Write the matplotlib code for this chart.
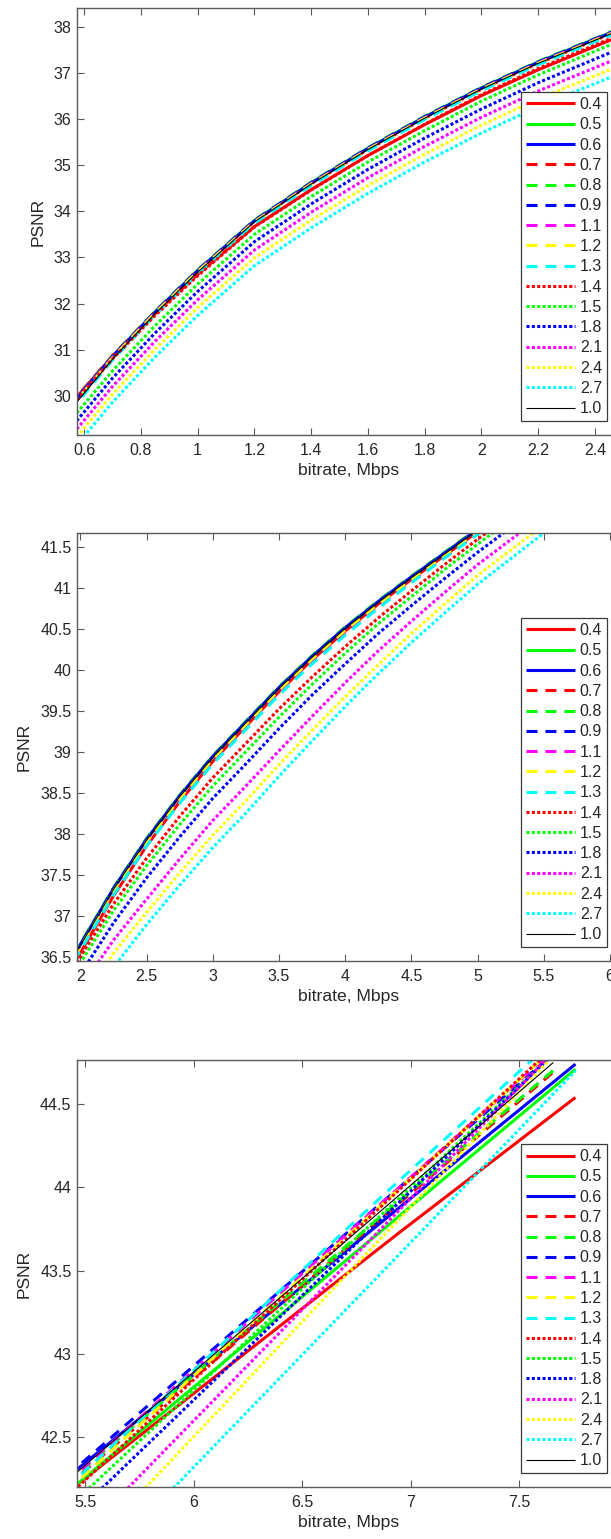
import matplotlib
matplotlib.use('Agg')
import matplotlib.pyplot as plt
from matplotlib.ticker import FuncFormatter, MultipleLocator

plt.rcParams['font.family'] = ['Liberation Sans', 'DejaVu Sans']

# curve names (legend order) and their MATLAB-like styles
labels = ['0.4', '0.5', '0.6', '0.7', '0.8', '0.9', '1.1', '1.2', '1.3',
          '1.4', '1.5', '1.8', '2.1', '2.4', '2.7', '1.0']
colors = ['#ff0000', '#00ff00', '#0000ff', '#ff0000', '#00ff00', '#0000ff',
          '#ff00ff', '#ffff00', '#00ffff', '#ff0000', '#00ff00', '#0000ff',
          '#ff00ff', '#ffff00', '#00ffff', '#000000']
styles = ['-'] * 3 + ['--'] * 6 + [':'] * 6 + ['-']

# --- low bitrate range ---
rate1 = [0.55, 0.7, 0.85, 1.0, 1.2, 1.4, 1.6, 1.8, 2.0, 2.2, 2.5]
psnr1 = [
    [29.80, 30.86, 31.78, 32.63, 33.67, 34.47, 35.21, 35.88, 36.51, 37.07, 37.83],
    [29.76, 30.85, 31.82, 32.72, 33.80, 34.62, 35.37, 36.05, 36.68, 37.24, 37.99],
    [29.76, 30.85, 31.81, 32.71, 33.79, 34.61, 35.36, 36.04, 36.67, 37.23, 37.98],
    [29.80, 30.87, 31.82, 32.71, 33.78, 34.60, 35.34, 36.02, 36.65, 37.21, 37.96],
    [29.77, 30.86, 31.83, 32.73, 33.81, 34.63, 35.38, 36.06, 36.69, 37.25, 38.00],
    [29.77, 30.85, 31.82, 32.72, 33.80, 34.62, 35.37, 36.05, 36.68, 37.24, 37.99],
    [29.74, 30.83, 31.80, 32.70, 33.78, 34.60, 35.35, 36.03, 36.66, 37.22, 37.97],
    [29.72, 30.82, 31.79, 32.69, 33.77, 34.59, 35.34, 36.02, 36.65, 37.21, 37.96],
    [29.66, 30.77, 31.75, 32.65, 33.74, 34.56, 35.31, 35.99, 36.62, 37.18, 37.93],
    [29.74, 30.80, 31.74, 32.60, 33.66, 34.46, 35.21, 35.89, 36.53, 37.10, 37.86],
    [29.45, 30.54, 31.52, 32.42, 33.50, 34.32, 35.07, 35.75, 36.39, 36.96, 37.73],
    [29.28, 30.38, 31.36, 32.26, 33.34, 34.16, 34.91, 35.59, 36.22, 36.79, 37.56],
    [29.10, 30.20, 31.18, 32.08, 33.16, 33.98, 34.73, 35.41, 36.04, 36.61, 37.37],
    [28.93, 30.03, 31.01, 31.91, 32.99, 33.81, 34.56, 35.24, 35.87, 36.44, 37.19],
    [28.75, 29.86, 30.84, 31.74, 32.82, 33.64, 34.39, 35.07, 35.70, 36.27, 37.02],
    [29.68, 30.79, 31.78, 32.68, 33.77, 34.59, 35.34, 36.02, 36.65, 37.21, 37.96],
]

# --- middle bitrate range ---
rate2 = [1.95, 2.25, 2.5, 2.75, 3.0, 3.25, 3.5, 3.75, 4.0, 4.25, 4.5, 4.75, 5.0, 5.6]
psnr2 = [
    [36.42, 37.25, 37.86, 38.40, 38.89, 39.32, 39.74, 40.13, 40.48, 40.81, 41.11, 41.40, 41.69, 42.36],
    [36.52, 37.34, 37.94, 38.47, 38.95, 39.37, 39.79, 40.17, 40.52, 40.84, 41.14, 41.43, 41.72, 42.39],
    [36.52, 37.34, 37.94, 38.47, 38.95, 39.37, 39.79, 40.17, 40.52, 40.84, 41.14, 41.43, 41.72, 42.39],
    [36.47, 37.29, 37.89, 38.42, 38.90, 39.32, 39.74, 40.12, 40.47, 40.79, 41.09, 41.38, 41.67, 42.34],
    [36.53, 37.35, 37.95, 38.48, 38.96, 39.38, 39.80, 40.18, 40.53, 40.85, 41.15, 41.44, 41.73, 42.40],
    [36.52, 37.34, 37.94, 38.47, 38.95, 39.37, 39.79, 40.17, 40.52, 40.84, 41.14, 41.43, 41.72, 42.39],
    [36.48, 37.30, 37.90, 38.43, 38.91, 39.33, 39.75, 40.13, 40.48, 40.80, 41.10, 41.39, 41.68, 42.35],
    [36.49, 37.31, 37.91, 38.44, 38.92, 39.34, 39.76, 40.14, 40.49, 40.81, 41.11, 41.40, 41.69, 42.36],
    [36.45, 37.26, 37.86, 38.38, 38.86, 39.28, 39.70, 40.08, 40.43, 40.76, 41.07, 41.37, 41.66, 42.33],
    [36.38, 37.15, 37.71, 38.22, 38.69, 39.11, 39.53, 39.92, 40.29, 40.64, 40.97, 41.29, 41.60, 42.30],
    [36.31, 37.07, 37.62, 38.12, 38.59, 39.01, 39.43, 39.83, 40.21, 40.57, 40.90, 41.23, 41.54, 42.25],
    [36.17, 36.92, 37.47, 37.97, 38.44, 38.86, 39.29, 39.70, 40.08, 40.45, 40.79, 41.12, 41.44, 42.16],
    [36.01, 36.71, 37.21, 37.70, 38.17, 38.59, 39.02, 39.44, 39.85, 40.24, 40.60, 40.95, 41.29, 42.02],
    [35.83, 36.55, 37.05, 37.53, 37.99, 38.41, 38.85, 39.27, 39.68, 40.07, 40.45, 40.81, 41.16, 41.90],
    [35.65, 36.38, 36.90, 37.38, 37.84, 38.26, 38.71, 39.14, 39.56, 39.96, 40.34, 40.70, 41.05, 41.80],
    [36.51, 37.33, 37.93, 38.46, 38.94, 39.36, 39.78, 40.16, 40.51, 40.83, 41.13, 41.42, 41.71, 42.38],
]

# --- high bitrate range (each fit covers its own rate span) ---
rate3 = [
    [5.42, 6.95, 7.76], [5.42, 6.95, 7.76], [5.42, 6.95, 7.76],
    [5.42, 7.665], [5.42, 7.665], [5.42, 7.665],
    [5.42, 7.665], [5.42, 7.665], [5.42, 6.88, 7.665],
    [5.45, 7.665], [5.50, 7.665], [5.56, 7.665],
    [5.68, 7.665], [5.76, 7.665], [5.89, 6.95, 7.76],
    [5.42, 7.658],
]
psnr3 = [
    [42.17, 43.73, 44.54], [42.17, 43.83, 44.71], [42.26, 43.88, 44.74],
    [42.21, 44.70], [42.23, 44.71], [42.27, 44.81],
    [42.23, 44.83], [42.18, 44.84], [42.20, 43.96, 44.89],
    [42.18, 44.85], [42.17, 44.81], [42.17, 44.81],
    [42.17, 44.82], [42.17, 44.80], [42.17, 43.60, 44.70],
    [42.24, 44.75],
]

panels = [
    (rate1, psnr1, (0.5753, 2.4916), (29.15, 38.41), 0.2, 1.0),
    (rate2, psnr2, (1.974, 6.083), (36.455, 41.676), 0.5, 0.5),
    (None, psnr3, (5.463, 7.97), (42.20, 44.765), 0.5, 0.5),
]

W, H = 611, 1539
fig = plt.figure(figsize=(W / 100, H / 100), dpi=100)
# axes boxes in pixels: left, top, bottom (right side runs past the canvas)
boxes = [(77, 8, 435), (77, 533, 961), (77, 1060, 1487)]
right_px = 621

edge = '#5a5a5a'
txt = '#262626'
fmt = FuncFormatter(lambda v, p: '%g' % round(v, 2))

for i, (rate, psnr, xl, yl, xstep, ystep) in enumerate(panels):
    left, top, bottom = boxes[i]
    ax = fig.add_axes([left / W, 1 - bottom / H, (right_px - left) / W, (bottom - top) / H])
    for k, lab in enumerate(labels):
        xs = rate if rate is not None else rate3[k]
        ys = psnr[k]
        ls = styles[k]
        lw = 0.8 if lab == '1.0' else 2.2
        line, = ax.plot(xs, ys, color=colors[k], lw=lw, label=lab,
                        solid_capstyle='butt')
        if ls == '--':
            line.set_dashes([3.6, 2.6])
        elif ls == ':':
            line.set_dashes([1.0, 0.75])
    ax.set_xlim(*xl)
    ax.set_ylim(*yl)
    ax.xaxis.set_major_locator(MultipleLocator(xstep))
    ax.yaxis.set_major_locator(MultipleLocator(ystep))
    ax.xaxis.set_major_formatter(fmt)
    ax.yaxis.set_major_formatter(fmt)
    ax.tick_params(direction='in', length=5, width=0.8, colors=edge,
                   labelcolor=txt, labelsize=11.5, top=True, right=True)
    ax.tick_params(axis='x', pad=6)
    ax.tick_params(axis='y', pad=4)
    for s in ax.spines.values():
        s.set_color(edge)
        s.set_linewidth(1.0)
    ax.set_xlabel('bitrate, Mbps', fontsize=12.6, color=txt, labelpad=3)
    ax.set_ylabel('PSNR', fontsize=12.6, color=txt, labelpad=6)
    leg = ax.legend(loc='lower right', fontsize=11.5, frameon=True, fancybox=False,
                    framealpha=1, edgecolor='#3a3a3a', handlelength=3.05,
                    handletextpad=0.3, labelspacing=0.33, borderpad=0.3,
                    borderaxespad=0.88)
    leg.get_frame().set_linewidth(0.9)
    for t in leg.get_texts():
        t.set_color(txt)

fig.savefig('out.png', dpi=100, facecolor='white')
